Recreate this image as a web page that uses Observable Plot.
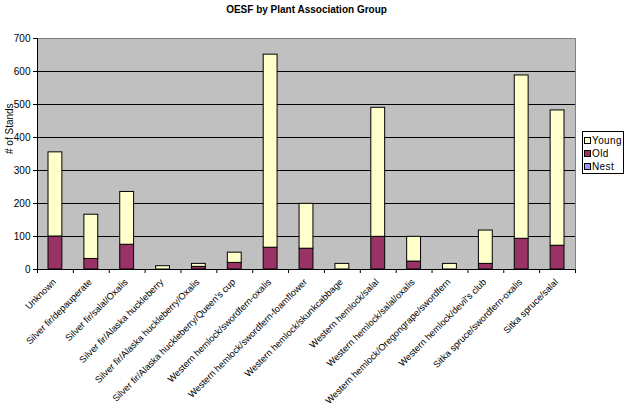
<!DOCTYPE html>
<html><head><meta charset="utf-8">
<script src="https://cdn.jsdelivr.net/npm/d3@7"></script>
<script src="https://cdn.jsdelivr.net/npm/@observablehq/plot@0.6"></script>
<style>
body{margin:0;background:#fff;font-family:"Liberation Sans",Arial,sans-serif;}
#wrap{position:relative;width:625px;height:409px;}
#legend{position:absolute;left:582px;top:131px;width:40px;height:41px;border:1px solid #000;background:#fff;font-size:10px;color:#000;}
#legend .row{position:absolute;left:1px;height:12px;line-height:12px;white-space:nowrap;letter-spacing:0.4px;}
#legend .sw{display:inline-block;width:5px;height:5px;border:1px solid #000;margin-right:1px;vertical-align:0px;}
</style></head>
<body><div id="wrap"></div>
<script>
const categories = [
  "Unknown",
  "Silver fir/depauperate",
  "Silver fir/salal/Oxalis",
  "Silver fir/Alaska huckleberry",
  "Silver fir/Alaska huckleberry/Oxalis",
  "Silver fir/Alaska huckleberry/Queen's cup",
  "Western hemlock/swordfern-oxalis",
  "Western hemlock/swordfern-foamflower",
  "Western hemlock/skunkcabbage",
  "Western hemlock/salal",
  "Western hemlock/salal/oxalis",
  "Western hemlock/Oregongrape/swordfern",
  "Western hemlock/devil's club",
  "Sitka spruce/swordfern-oxalis",
  "Sitka spruce/salal"
];
const nest  = [0,0,0,0,0,0,0,0,0,0,0,0,0,0,0];
const old   = [100,32,75,0,8,20,66,63,0,99,24,0,17,93,72];
const young = [255,134,160,10,9,31,585,136,17,391,75,17,101,495,410];
const seriesNames = ["Nest","Old","Young"];
const seriesColors = ["#9999FF","#993366","#FFFFCC"];
const yTicks = [0,100,200,300,400,500,600,700];
const gridLines = [100,200,300,400,500,600];
const title = "OESF by Plant Association Group";
const yLabel = "# of Stands";

const seriesValues = [nest, old, young];
const rows = [];
categories.forEach((c, i) => {
  let base = 0;
  seriesValues.forEach((vals, s) => {
    const v = vals[i];
    if (v > 0) rows.push({i, i1: i + 1, series: seriesNames[s], y1: base, y2: base + v});
    base += v;
  });
});
const labels = categories.map((c, i) => ({x: i + 0.5, text: c}));

const chart = Plot.plot({
  width: 625, height: 409,
  marginLeft: 37, marginRight: 50, marginTop: 38, marginBottom: 140,
  style: {fontFamily: "'Liberation Sans', Arial, sans-serif", fontSize: "10px", color: "#000", background: "#fff"},
  x: {type: "linear", domain: [0, categories.length], axis: null},
  y: {domain: [0, 700], axis: null},
  color: {domain: seriesNames, range: seriesColors},
  marks: [
    Plot.frame({fill: "#C0C0C0", stroke: "#808080"}),
    Plot.ruleY(gridLines, {stroke: "#000"}),
    Plot.rect(rows, {x1: "i", x2: "i1", y1: "y1", y2: "y2", fill: "series", stroke: "#000", strokeWidth: 1, insetLeft: 11, insetRight: 11}),
    Plot.ruleY([0], {stroke: "#000"}),
    Plot.ruleX([0], {stroke: "#000"}),
    Plot.axisY({ticks: yTicks, tickSize: 4, tickPadding: 3, label: null, tickFormat: d => d}),
    Plot.axisX({ticks: d3.range(0, categories.length + 1), tickSize: 4, tickFormat: () => "", label: null}),
    Plot.text(labels, {x: "x", y: 0, text: "text", rotate: -45, textAnchor: "end", dx: -1, dy: 11, fontSize: 9.3}),
    Plot.text([title], {frameAnchor: "top", dy: -33, fontWeight: "bold", fontSize: 10}),
    Plot.text([yLabel], {frameAnchor: "left", rotate: -90, dx: -28, fontSize: 10})
  ]
});
const wrap = document.getElementById("wrap");
wrap.appendChild(chart);

const legend = document.createElement("div");
legend.id = "legend";
const order = [2, 1, 0];
order.forEach((s, k) => {
  const r = document.createElement("div");
  r.className = "row";
  r.style.top = (3 + k * 13) + "px";
  r.innerHTML = `<span class="sw" style="background:${seriesColors[s]}"></span>${seriesNames[s]}`;
  legend.appendChild(r);
});
wrap.appendChild(legend);
</script>
</body></html>
